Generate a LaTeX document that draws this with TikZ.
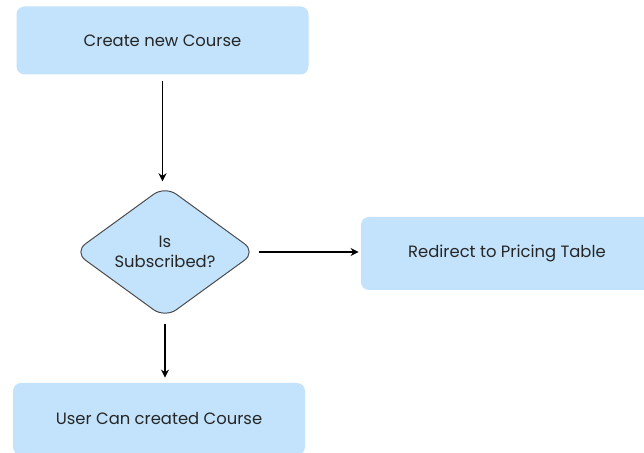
\documentclass[tikz,border=0pt]{standalone}
\usepackage{fontspec}
\setmainfont{Poppins}
\usepackage{tikz}
\usetikzlibrary{arrows.meta,positioning,shapes.geometric}
\definecolor{boxblue}{HTML}{C2E3FB}
\definecolor{txtgray}{HTML}{262626}
\tikzset{%
	process/.style  = {rectangle, rounded corners=4pt, fill=boxblue, text=txtgray, minimum width=146pt, minimum height=34pt, text centered, font=\fontsize{8.2}{10}\selectfont},
	decision/.style = {diamond, rounded corners=7pt, draw=black!70, line width=0.5pt, fill=boxblue, text=txtgray, minimum width=91pt, minimum height=61pt, inner sep=0pt, align=center, font=\fontsize{8.2}{10}\selectfont},
	arrow/.style    = {line width=0.9pt, -{Stealth[length=4pt,width=4pt]}},
}

\begin{document}
\begin{tikzpicture}[x=1pt,y=1pt]
	\useasboundingbox (0,0) rectangle (322,226.5);
	\node[process] (create) at (81.25,206.25) {Create new Course};
	\node[decision] (check) at (82.5,100.5) {Is\\Subscribed?};
	\node[process, minimum height=36.5pt] (redirect) at (253.5,99.75) {Redirect to Pricing Table};
	\node[process, minimum height=36pt] (user) at (79.5,17) {User Can created Course};
	
	\draw[arrow,shorten <=3pt,shorten >=2pt] (create.south) -- (create.south |- check.north);
	\draw[arrow,shorten <=1pt,shorten >=1pt] (check.east) -- (check.east -| redirect.west);
	\draw[arrow,shorten <=2.5pt,shorten >=2.5pt] (check.south) -- (check.south |- user.north);
\end{tikzpicture}
\end{document}
